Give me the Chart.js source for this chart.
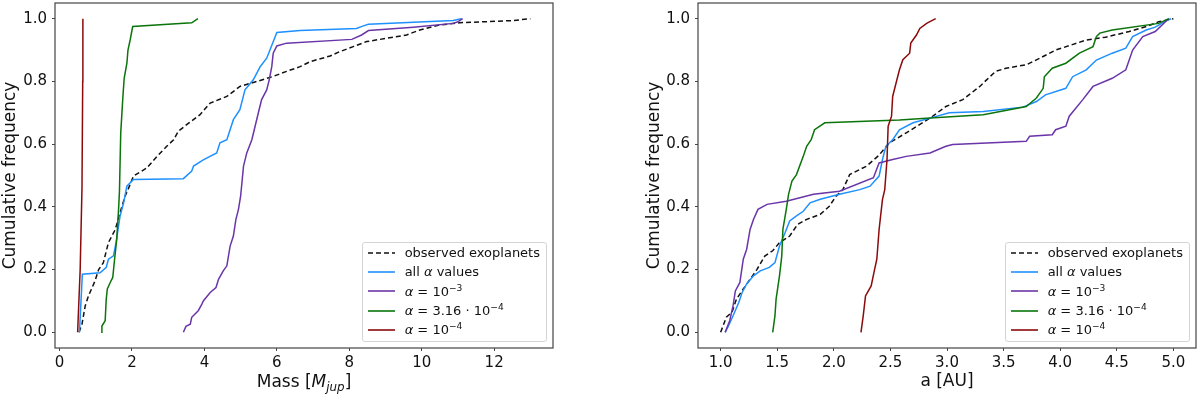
<!DOCTYPE html>
<html>
<head>
<meta charset="utf-8">
<script src="https://cdn.jsdelivr.net/npm/chart.js@4.4.0/dist/chart.umd.min.js"></script>
<style>
    body { margin: 0; background: #fff; font-family: "DejaVu Sans", sans-serif; }
    #wrap { position: relative; width: 1200px; height: 396px; }
    .panel { position: absolute; top: 0; width: 600px; height: 396px; }
    .legend {
        position: absolute; background: rgba(255, 255, 255, 0.8);
        border: 1px solid #d4d4d4; border-radius: 3px;
        padding: 0 6px 2px 5px; font-size: 13px; color: #111;
    }
    .legend .row { display: flex; align-items: center; height: 19.3px; white-space: nowrap; }
    .legend svg { margin-right: 10px; flex: none; }
    .legend sup { font-size: 0.7em; vertical-align: 0.5em; line-height: 0; }
    .xtitle { position: absolute; top: 371px; font-size: 17px; color: #111; transform: translateX(-50%); white-space: nowrap; }
    .xtitle sub { font-size: 0.7em; vertical-align: -0.3em; line-height: 0; }
</style>
</head>
<body>
<div id="wrap">
    <div class="panel" style="left:0">
        <canvas id="massChart" width="600" height="396"></canvas>
        <div class="legend" id="massLegend"></div>
        <div class="xtitle" id="massTitle">Mass [<i>M</i><sub><i>jup</i></sub>]</div>
    </div>
    <div class="panel" style="left:600px">
        <canvas id="aChart" width="600" height="396"></canvas>
        <div class="legend" id="aLegend"></div>
    </div>
</div>
<script>
// series, in plot order
const seriesLabels = [
    "observed exoplanets",
    "all <i>α</i> values",
    "<i>α</i> = 10<sup>−3</sup>",
    "<i>α</i> = 3.16 · 10<sup>−4</sup>",
    "<i>α</i> = 10<sup>−4</sup>"
];
const seriesColors = ["#111111", "#1e90ff", "#6a35a8", "#0b750b", "#8b0a0a"];
const seriesDash = [[5, 3], [], [], [], []];

const yTicks = [0.0, 0.2, 0.4, 0.6, 0.8, 1.0];
const massTicks = [0, 2, 4, 6, 8, 10, 12];
const aTicks = [1.0, 1.5, 2.0, 2.5, 3.0, 3.5, 4.0, 4.5, 5.0];

// left panel: cumulative frequency vs mass [M_jup]
const massObserved = [[0.54,0],[0.62,0.026],[0.71,0.085],[0.80,0.116],[0.98,0.164],[1.08,0.20],[1.21,0.222],[1.35,0.286],[1.54,0.328],[1.67,0.381],[1.81,0.434],[1.93,0.466],[2.04,0.498],[2.41,0.524],[2.69,0.561],[2.96,0.593],[3.15,0.614],[3.28,0.641],[3.51,0.662],[3.88,0.694],[4.16,0.731],[4.62,0.752],[4.98,0.784],[5.45,0.80],[5.90,0.816],[6.27,0.832],[6.64,0.847],[6.92,0.863],[7.47,0.881],[7.74,0.895],[8.11,0.911],[8.48,0.927],[8.85,0.934],[9.58,0.948],[9.95,0.964],[10.5,0.98],[11.05,0.987],[12.52,0.994],[13.0,1.0]];
const massAll = [[0.55,0],[0.63,0.185],[1.12,0.19],[1.29,0.207],[1.35,0.233],[1.49,0.244],[1.56,0.286],[1.67,0.37],[1.77,0.413],[1.86,0.466],[2.04,0.487],[3.42,0.49],[3.65,0.514],[3.70,0.53],[3.97,0.55],[4.34,0.572],[4.43,0.604],[4.62,0.614],[4.80,0.678],[4.98,0.71],[5.12,0.773],[5.35,0.805],[5.54,0.847],[5.72,0.874],[5.81,0.90],[6.0,0.956],[6.64,0.962],[8.2,0.969],[8.39,0.977],[8.53,0.982],[10.87,0.994],[11.1,1.0]];
const massA3 = [[3.42,0],[3.49,0.019],[3.61,0.026],[3.65,0.048],[3.83,0.069],[3.93,0.09],[3.97,0.10],[4.16,0.127],[4.32,0.143],[4.39,0.169],[4.52,0.196],[4.62,0.212],[4.71,0.275],[4.80,0.307],[4.87,0.36],[4.94,0.392],[5.0,0.434],[5.08,0.53],[5.17,0.572],[5.31,0.614],[5.49,0.70],[5.58,0.742],[5.72,0.773],[5.79,0.805],[5.86,0.847],[5.90,0.89],[6.0,0.913],[6.27,0.922],[8.07,0.934],[8.34,0.948],[8.53,0.962],[9.77,0.973],[10.87,0.985],[11.0,0.99],[11.13,1.0]];
const massA316 = [[1.15,0],[1.17,0.02],[1.26,0.037],[1.29,0.106],[1.32,0.138],[1.40,0.159],[1.47,0.175],[1.52,0.233],[1.58,0.297],[1.63,0.392],[1.655,0.45],[1.69,0.636],[1.75,0.752],[1.785,0.81],[1.86,0.858],[1.89,0.90],[1.95,0.932],[2.02,0.975],[3.65,0.987],[3.82,1.0]];
const massA4 = [[0.5,0],[0.57,0.2],[0.62,0.46],[0.64,0.8],[0.645,1.0]];

// right panel: cumulative frequency vs a [AU]
const aObserved = [[1.0,0],[1.05,0.048],[1.10,0.064],[1.14,0.106],[1.20,0.138],[1.26,0.169],[1.32,0.20],[1.39,0.243],[1.46,0.26],[1.52,0.286],[1.61,0.307],[1.68,0.344],[1.76,0.36],[1.88,0.376],[1.96,0.402],[2.02,0.434],[2.08,0.455],[2.14,0.503],[2.29,0.53],[2.40,0.565],[2.49,0.604],[2.64,0.636],[2.85,0.683],[2.99,0.72],[3.14,0.742],[3.29,0.784],[3.35,0.805],[3.43,0.832],[3.52,0.842],[3.70,0.853],[3.82,0.874],[3.96,0.90],[4.08,0.914],[4.23,0.932],[4.40,0.941],[4.61,0.959],[4.76,0.975],[4.87,0.99],[5.0,1.0]];
const aAll = [[1.04,0],[1.07,0.021],[1.11,0.053],[1.16,0.095],[1.19,0.127],[1.23,0.154],[1.29,0.18],[1.35,0.196],[1.43,0.207],[1.48,0.222],[1.52,0.275],[1.57,0.318],[1.61,0.355],[1.67,0.371],[1.73,0.386],[1.79,0.413],[1.88,0.424],[2.05,0.44],[2.23,0.455],[2.32,0.466],[2.40,0.498],[2.43,0.551],[2.46,0.593],[2.52,0.614],[2.58,0.646],[2.70,0.668],[2.85,0.683],[3.02,0.70],[3.32,0.704],[3.67,0.718],[3.79,0.736],[3.87,0.757],[4.05,0.778],[4.11,0.815],[4.23,0.837],[4.32,0.868],[4.46,0.89],[4.58,0.906],[4.64,0.943],[4.76,0.964],[4.84,0.973],[4.95,0.996],[4.98,1.0]];
const aA3 = [[1.04,0],[1.08,0.037],[1.11,0.085],[1.13,0.132],[1.17,0.159],[1.20,0.233],[1.23,0.265],[1.26,0.328],[1.29,0.36],[1.33,0.392],[1.41,0.408],[1.58,0.418],[1.82,0.44],[2.05,0.45],[2.35,0.493],[2.40,0.54],[2.52,0.551],[2.64,0.561],[2.85,0.572],[2.99,0.593],[3.05,0.599],[3.70,0.609],[3.73,0.625],[3.93,0.63],[3.96,0.646],[4.05,0.657],[4.08,0.689],[4.20,0.742],[4.29,0.784],[4.46,0.81],[4.58,0.837],[4.64,0.90],[4.73,0.943],[4.84,0.959],[4.93,0.99],[4.96,1.0]];
const aA316 = [[1.46,0],[1.48,0.053],[1.49,0.106],[1.52,0.18],[1.54,0.243],[1.55,0.328],[1.58,0.392],[1.60,0.44],[1.63,0.482],[1.67,0.503],[1.73,0.561],[1.76,0.593],[1.80,0.614],[1.83,0.646],[1.92,0.668],[2.58,0.677],[2.85,0.683],[3.32,0.694],[3.70,0.72],[3.79,0.747],[3.85,0.778],[3.86,0.815],[3.93,0.842],[4.05,0.858],[4.17,0.89],[4.29,0.911],[4.32,0.943],[4.35,0.954],[4.46,0.964],[4.87,0.985],[4.96,1.0]];
const aA4 = [[2.24,0],[2.26,0.053],[2.28,0.116],[2.33,0.148],[2.36,0.20],[2.38,0.233],[2.40,0.328],[2.42,0.392],[2.43,0.424],[2.45,0.455],[2.47,0.551],[2.48,0.657],[2.51,0.689],[2.52,0.752],[2.55,0.795],[2.58,0.837],[2.61,0.869],[2.67,0.89],[2.68,0.922],[2.73,0.948],[2.76,0.969],[2.82,0.985],[2.90,1.0]];

Chart.defaults.font.family = "'DejaVu Sans', sans-serif";
Chart.defaults.color = "#111";

const AXIS = "#444";

// matplotlib style box around the plot area
const framePlugin = {
    id: "frame",
    afterDraw(chart) {
        const { ctx, chartArea: a } = chart;
        ctx.save();
        ctx.strokeStyle = AXIS;
        ctx.lineWidth = 1.2;
        ctx.strokeRect(a.left, a.top, a.right - a.left, a.bottom - a.top);
        ctx.restore();
    }
};

// scales keep their fixed size and no label overhang padding
const fixSize = (prop, size) => (s) => {
    s[prop] = size;
    s.paddingTop = s.paddingBottom = s.paddingLeft = s.paddingRight = 0;
};

function buildLegend(legendId, chart) {
    const el = document.getElementById(legendId);
    el.innerHTML = seriesLabels.map((label, i) => {
        const dash = seriesDash[i].length ? `stroke-dasharray="${seriesDash[i].join(" ")}"` : "";
        return `<div class="row"><svg width="27" height="4"><line x1="0" y1="2" x2="27" y2="2" stroke="${seriesColors[i]}" stroke-width="1.6" ${dash}/></svg><span>${label}</span></div>`;
    }).join("");
    const a = chart.chartArea;
    el.style.right = (chart.width - a.right + 6) + "px";
    el.style.top = (a.bottom - 6 - el.offsetHeight) + "px";
}

function makeChart(canvasId, series, xRange, xTicks, xFormat, xTitle, pad, yWidth) {
    const datasets = series.map((s, i) => ({
        label: seriesLabels[i].replace(/<[^>]+>/g, ""),
        data: s.map(([x, y]) => ({ x, y })),
        borderColor: seriesColors[i],
        borderWidth: 1.5,
        borderDash: seriesDash[i],
        pointRadius: 0,
        showLine: true,
        tension: 0,
        order: series.length - i
    }));

    const tickGrid = { drawOnChartArea: false, drawTicks: true, tickLength: 3, color: AXIS, lineWidth: 1 };

    return new Chart(document.getElementById(canvasId), {
        type: "scatter",
        data: { datasets },
        options: {
            responsive: false,
            animation: false,
            devicePixelRatio: 1,
            layout: { padding: pad },
            plugins: { legend: { display: false }, tooltip: { enabled: false } },
            scales: {
                x: {
                    type: "linear",
                    min: xRange[0],
                    max: xRange[1],
                    afterBuildTicks: (s) => { s.ticks = xTicks.map(v => ({ value: v })); },
                    afterFit: fixSize("height", 48),
                    grid: tickGrid,
                    border: { display: false },
                    ticks: { autoSkip: false, maxRotation: 0, padding: 3, font: { size: 15 }, color: "#111", callback: xFormat },
                    title: { display: !!xTitle, text: xTitle, font: { size: 17 }, color: "#111", padding: { top: 0, bottom: 4 } }
                },
                y: {
                    min: -0.05,
                    max: 1.05,
                    afterBuildTicks: (s) => { s.ticks = yTicks.map(v => ({ value: v })); },
                    afterFit: fixSize("width", yWidth),
                    grid: tickGrid,
                    border: { display: false },
                    ticks: { autoSkip: false, padding: 5, font: { size: 15 }, color: "#111", callback: (v) => Number(v).toFixed(1) },
                    title: { display: true, text: "Cumulative frequency", font: { size: 17 }, color: "#111", padding: { top: 0, bottom: 0 } }
                }
            }
        },
        plugins: [framePlugin]
    });
}

const massChart = makeChart("massChart",
    [massObserved, massAll, massA3, massA316, massA4],
    [-0.125, 13.625], massTicks, (v) => String(v), "",
    { left: 0, top: 3, right: 47, bottom: 0 }, 55);

const aChart = makeChart("aChart",
    [aObserved, aAll, aA3, aA316, aA4],
    [0.8, 5.2], aTicks, (v) => Number(v).toFixed(1), "a [AU]",
    { left: 44, top: 3, right: 4, bottom: 0 }, 54);

buildLegend("massLegend", massChart);
buildLegend("aLegend", aChart);

const ma = massChart.chartArea;
document.getElementById("massTitle").style.left = ((ma.left + ma.right) / 2) + "px";
</script>
</body>
</html>
